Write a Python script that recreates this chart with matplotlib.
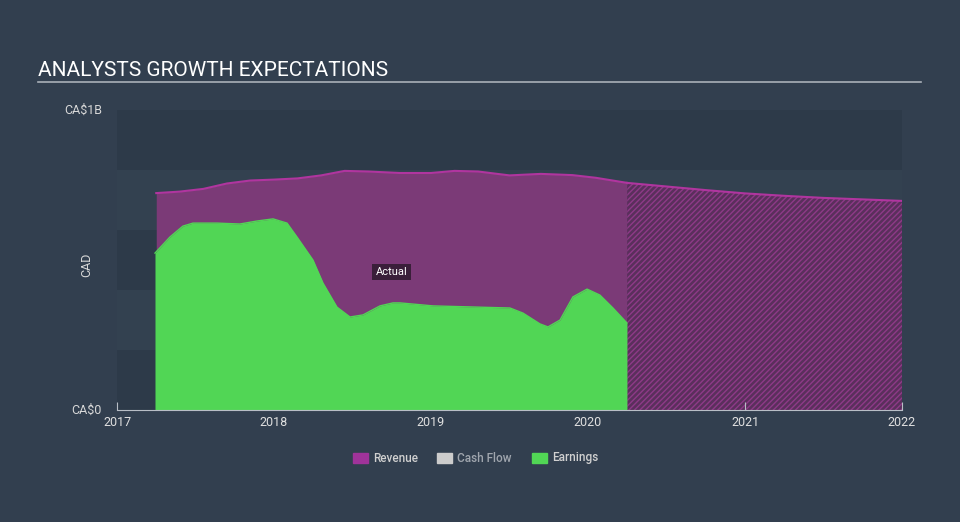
import numpy as np
import matplotlib
matplotlib.use("Agg")
from matplotlib import pyplot as plt

plt.rcParams['font.family'] = ['Roboto', 'DejaVu Sans']

# revenue (actual), CA$ billions
rev_x = [2017.25, 2017.4, 2017.55, 2017.7, 2017.85, 2018.0, 2018.15, 2018.3, 2018.45,
         2018.6, 2018.8, 2019.0, 2019.15, 2019.3, 2019.5, 2019.7, 2019.9, 2020.05, 2020.25]
rev_y = [0.723, 0.728, 0.737, 0.755, 0.765, 0.768, 0.772, 0.782, 0.797,
         0.795, 0.79, 0.79, 0.797, 0.795, 0.782, 0.787, 0.783, 0.774, 0.757]
# revenue forecast
fc_x = [2020.25, 2020.5, 2020.75, 2021.0, 2021.25, 2021.5, 2021.75, 2022.0]
fc_y = [0.757, 0.745, 0.733, 0.722, 0.714, 0.707, 0.702, 0.697]
# earnings (actual)
earn_x = [2017.242, 2017.338, 2017.42, 2017.484, 2017.637, 2017.783, 2017.892, 2017.994,
          2018.083, 2018.146, 2018.248, 2018.312, 2018.401, 2018.484, 2018.567, 2018.675,
          2018.758, 2018.803, 2019.013, 2019.503, 2019.586, 2019.694, 2019.745, 2019.822,
          2019.904, 2019.994, 2020.076, 2020.159, 2020.248]
earn_y = [0.523, 0.577, 0.613, 0.623, 0.623, 0.62, 0.63, 0.637,
          0.623, 0.577, 0.5, 0.423, 0.343, 0.31, 0.317, 0.347,
          0.357, 0.357, 0.347, 0.34, 0.323, 0.287, 0.277, 0.3,
          0.377, 0.403, 0.383, 0.34, 0.29]
years = [2017, 2018, 2019, 2020, 2021, 2022]
legend_labels = ["Revenue", "Cash Flow", "Earnings"]
legend_colors = ["#a0339a", "#cccccc", "#51d655"]

bg = "#323f4f"
fig = plt.figure(figsize=(9.6, 5.22), dpi=100, facecolor=bg)
ax = fig.add_axes([117/960, 1-410/522, 785/960, 300/522])
ax.set_facecolor(bg)
ax.set_xlim(2017, 2022)
ax.set_ylim(0, 1)

# banded background
for i in range(5):
    col = "#2d3a49" if i % 2 == 0 else "#334150"
    ax.axhspan(i*0.2, (i+1)*0.2, color=col, lw=0, zorder=0)

ax.fill_between(rev_x, 0, rev_y, color="#7b3a77", lw=0, zorder=1)
ax.plot(rev_x, rev_y, color="#b0359f", lw=1.5, zorder=3)
ax.fill_between(fc_x, 0, fc_y, facecolor="#5a2f5c", edgecolor="#8e3a88",
                hatch="//////", lw=0, zorder=1)
ax.plot(fc_x, fc_y, color="#b0359f", lw=1.5, zorder=3)
ax.fill_between(earn_x, 0, earn_y, color="#51d655", lw=0, zorder=2)
ax.plot(earn_x, earn_y, color="#51d655", lw=1, zorder=2)

ax.text(2018.75, 0.46, "Actual", color="white", fontsize=8, ha="center", va="center",
        bbox=dict(facecolor="#3a1f3a", edgecolor="none", pad=2.5), zorder=4)

for s in ["top", "right", "left"]:
    ax.spines[s].set_visible(False)
ax.spines["bottom"].set_color("#b8bec6")
ax.set_xticks(years)
ax.set_xticklabels([str(y) for y in years])
ax.tick_params(axis="x", colors="#b8bec6", labelcolor="#e0e0e0", labelsize=9, length=6, direction="in", pad=4)
ax.set_yticks([])

fig.text(102/960, 1-110/522, "CA$1B", color="#d8d8d8", fontsize=9, ha="right", va="center")
fig.text(102/960, 1-410/522, "CA$0", color="#d8d8d8", fontsize=9, ha="right", va="center")
fig.text(87/960, 1-265/522, "CAD", color="#d8d8d8", fontsize=9, rotation=90, ha="center", va="center")

fig.text(38/960, 1-70/522, "ANALYSTS GROWTH EXPECTATIONS", color="white", fontsize=15,
         ha="left", va="center")
fig.add_artist(plt.Line2D([38/960, 921/960], [1-82/522, 1-82/522], color="#aab0b8", lw=1.2))

# legend
lx = [353, 437, 532]
for x0, lab, col in zip(lx, legend_labels, legend_colors):
    fig.patches.append(plt.Rectangle((x0/960, 1-463/522), 15/960, 10/522, color=col,
                                     transform=fig.transFigure))
    fig.text((x0+20)/960, 1-458/522, lab, color="#d0d0d0" if lab != "Cash Flow" else "#a0a6ae",
             fontsize=8.5, fontweight="medium", ha="left", va="center")

plt.savefig("out.png", dpi=100, facecolor=bg)
